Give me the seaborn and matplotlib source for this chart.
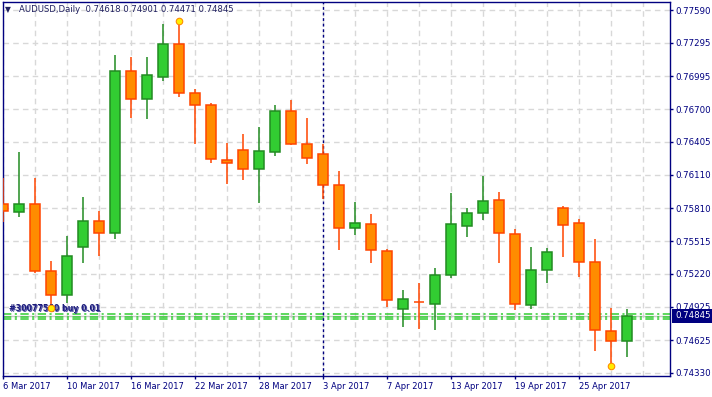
import numpy as np
import pandas as pd
import matplotlib
matplotlib.use("Agg")
import matplotlib.pyplot as plt
import seaborn as sns

# AUDUSD daily bars, 6 Mar - 28 Apr 2017
opens = [0.75848, 0.75776, 0.75848, 0.75246, 0.75030, 0.75462, 0.75695, 0.75587, 0.77042, 0.76791,
         0.76988, 0.77285, 0.76845, 0.76737, 0.76243, 0.76333, 0.76162, 0.76315, 0.76683, 0.76387,
         0.76297, 0.76018, 0.75632, 0.75668, 0.75426, 0.74905, 0.74968, 0.74950, 0.75210, 0.75650,
         0.75767, 0.75884, 0.75578, 0.74941, 0.75255, 0.75812, 0.75677, 0.75327, 0.74707, 0.74618]
highs = [0.76081, 0.76315, 0.76081, 0.75336, 0.75560, 0.75911, 0.75785, 0.77186, 0.77168, 0.77168,
         0.77464, 0.77491, 0.76881, 0.76755, 0.76396, 0.76476, 0.76539, 0.76737, 0.76782, 0.76620,
         0.76387, 0.76144, 0.75866, 0.75758, 0.75444, 0.75075, 0.75138, 0.75273, 0.75947, 0.75812,
         0.76099, 0.75956, 0.75623, 0.75462, 0.75453, 0.75830, 0.75713, 0.75533, 0.74914, 0.74901]
lows = [0.75686, 0.75731, 0.75228, 0.74914, 0.74959, 0.75318, 0.75381, 0.75533, 0.76620, 0.76611,
        0.76952, 0.76809, 0.76387, 0.76216, 0.76027, 0.76063, 0.75857, 0.76279, 0.76378, 0.76207,
        0.75893, 0.75435, 0.75569, 0.75318, 0.74923, 0.74743, 0.74725, 0.74716, 0.75183, 0.75551,
        0.75704, 0.75318, 0.74896, 0.74905, 0.75138, 0.75372, 0.75192, 0.74528, 0.74393, 0.74471]
closes = [0.75785, 0.75848, 0.75246, 0.75030, 0.75381, 0.75695, 0.75587, 0.77042, 0.76791, 0.77006,
          0.77285, 0.76845, 0.76737, 0.76252, 0.76216, 0.76162, 0.76324, 0.76683, 0.76387, 0.76261,
          0.76018, 0.75632, 0.75677, 0.75435, 0.74986, 0.74995, 0.74965, 0.75210, 0.75668, 0.75767,
          0.75875, 0.75587, 0.74950, 0.75255, 0.75417, 0.75659, 0.75327, 0.74716, 0.74618, 0.74845]
dates = pd.bdate_range("2017-03-06", periods=40)

price_ticks = [0.77590, 0.77295, 0.76995, 0.76700, 0.76405, 0.76110,
               0.75810, 0.75515, 0.75220, 0.74925, 0.74625, 0.74330]
price_labels = ["0.77590", "0.77295", "0.76995", "0.76700", "0.76405", "0.76110",
                "0.75810", "0.75515", "0.75220", "0.74925", "0.74625", "0.74330"]
date_labels = ["6 Mar 2017", "10 Mar 2017", "16 Mar 2017", "22 Mar 2017", "28 Mar 2017",
               "3 Apr 2017", "7 Apr 2017", "13 Apr 2017", "19 Apr 2017", "25 Apr 2017"]

order_levels = [0.74858, 0.74835, 0.74812]
order_labels = ["#30077560 buy 0.01", "#30077529 buy 0.01"]
header = "AUDUSD,Daily  0.74618 0.74901 0.74471 0.74845"
last_close = 0.74845

sns.set_theme(style="white")
plt.rcParams['font.family'] = ['DejaVu Sans']
plt.rcParams['lines.scale_dashes'] = False

navy = '#000080'
df = pd.DataFrame({'date': dates, 'open': opens, 'high': highs, 'low': lows, 'close': closes})
df['x'] = np.arange(len(df))
df['up'] = df['close'] >= df['open']
df['fill'] = np.where(df['up'], '#32CD32', '#FF8C00')
df['edge'] = np.where(df['up'], '#228B22', '#FF4500')

fig = plt.figure(figsize=(7.12, 3.97), dpi=100)
ax = fig.add_axes([2.5 / 712, 1 - 376 / 397, 667.5 / 712, 374 / 397])

# grid
for y in price_ticks:
    ax.axhline(y, color='#D8D8D8', ls=(0, (4, 3)), lw=1, zorder=0)
for xg in range(0, 42, 2):
    ax.axvline(xg, color='#D8D8D8', ls=(0, (4, 3)), lw=1, zorder=0)

# current price line + order lines
ax.axhline(last_close, color='#C8C8C8', lw=1, zorder=1)
for lvl in order_levels:
    ax.axhline(lvl, color='#32CD32', lw=1.1, ls=(0, (6, 2.5, 1.5, 2.5)), zorder=2)

# candles
ax.vlines(df['x'], df['low'], df['high'], colors=df['edge'], lw=1.1, zorder=3)
ax.bar(df['x'], (df['close'] - df['open']).abs().clip(lower=0.00002),
       bottom=df[['open', 'close']].min(axis=1), width=0.66,
       color=df['fill'], edgecolor=df['edge'], linewidth=1.1, zorder=4)

# period separator
ax.axvline(20, color=navy, ls=(0, (2, 2)), lw=1, zorder=2)

# order labels
ax.text(0.375, 0.74905, order_labels[0], fontsize=5.7, fontweight='bold', color='#1a1a78',
        va='center', ha='left', zorder=7)
ax.text(0.42, 0.74902, order_labels[1], fontsize=5.7, fontweight='bold', color='#2a2a90',
        va='center', ha='left', zorder=7, alpha=0.8)

# high / low markers
marks = pd.DataFrame({'x': [3, 11, 38], 'y': [lows[3], highs[11], lows[38]]})
sns.scatterplot(data=marks, x='x', y='y', ax=ax, s=22, color='#FFEE00',
                edgecolor='#FF8C00', linewidth=0.8, zorder=8, legend=False)

ax.set_xlim(-0.03, 41.69)
ax.set_ylim(0.74303, 0.77662)

ax.yaxis.tick_right()
ax.set_yticks(price_ticks, price_labels)
ax.set_xticks(range(0, 40, 4), date_labels, ha='left')
ax.tick_params(axis='y', right=True, left=False, direction='out', length=2.2, width=1,
               pad=1.5, color=navy, labelcolor=navy, labelsize=6.2)
ax.tick_params(axis='x', bottom=True, direction='out', length=2.2, width=1,
               pad=2, color=navy, labelcolor=navy, labelsize=6.0)
for sp in ax.spines.values():
    sp.set_color(navy)
    sp.set_linewidth(1)
ax.set_xlabel('')
ax.set_ylabel('')

# last price box
ax.annotate(f"{last_close:.5f}", xy=(1, last_close), xycoords=('axes fraction', 'data'),
            xytext=(5, 0), textcoords='offset pixels', ha='left', va='center',
            color='white', fontsize=6.2, annotation_clip=False,
            bbox=dict(boxstyle='square,pad=0.3', fc=navy, ec='none'))

# header
fig.text(5 / 712, 1 - 10 / 397, '\u25bc', fontsize=5.5, color='#1f1f5f', va='center')
fig.text(19 / 712, 1 - 10 / 397, header, fontsize=6.1, color='#1f1f5f', va='center')

fig.savefig('out.png', dpi=100)
